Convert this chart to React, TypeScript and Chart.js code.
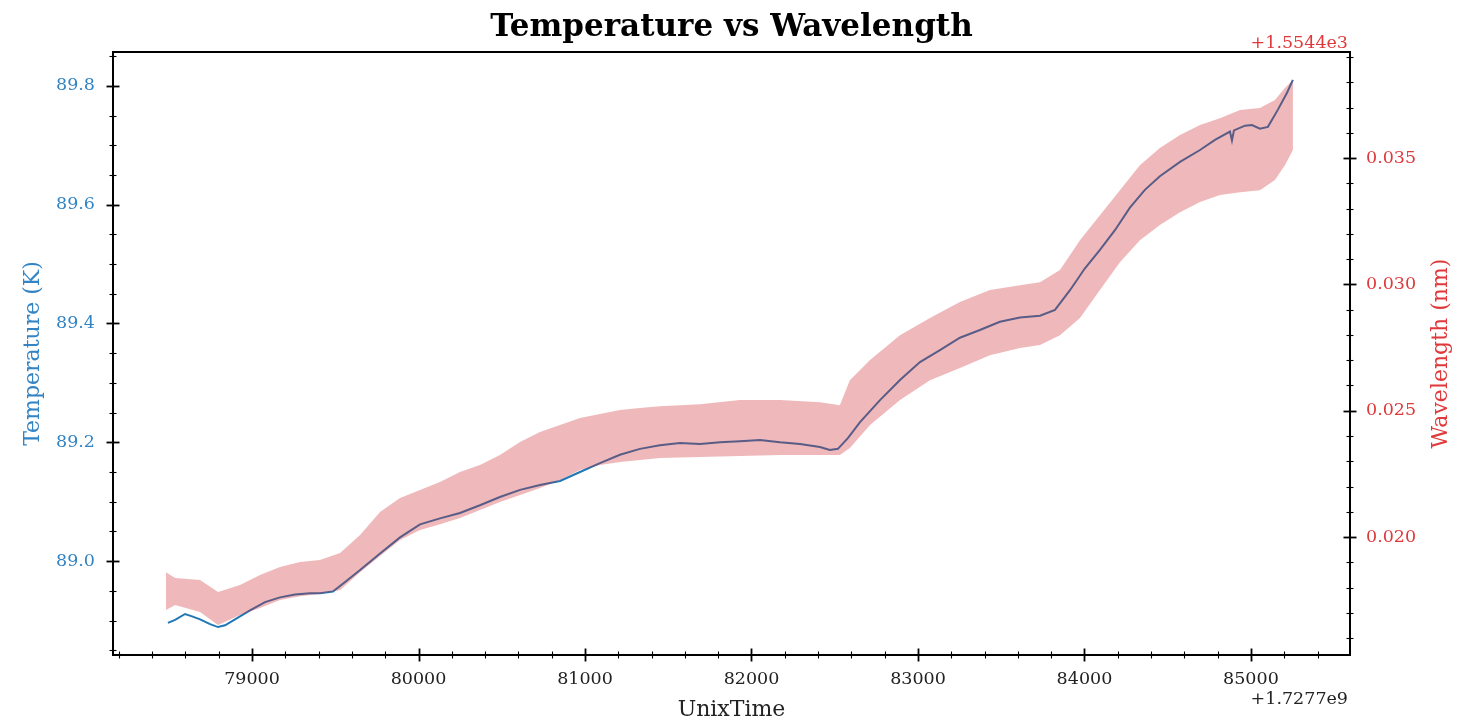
import React, { useEffect, useRef } from 'react';
import { Chart, registerables } from 'chart.js';

Chart.register(...registerables);

// ---- Data ----
const X_OFFSET_LABEL = '+1.7277e9';
const WL_OFFSET_LABEL = '+1.5544e3';

// Temperature (K) vs UnixTime (offset 1.7277e9)
const tempTime = [
  78495, 78538, 78598, 78640, 78688, 78748, 78796, 78838, 78898, 78988,
  79078, 79168, 79258, 79348, 79408, 79486, 79559, 79649, 79769, 79889,
  80009, 80129, 80249, 80369, 80489, 80610, 80730, 80850, 80970, 81090,
  81210, 81330, 81450, 81571, 81691, 81811, 81931, 82051, 82171, 82291,
  82411, 82471, 82519, 82579, 82652, 82772, 82892, 83012, 83132, 83252,
  83372, 83492, 83613, 83733, 83823, 83913, 84003, 84093, 84183, 84273,
  84363, 84453, 84574, 84694, 84784, 84874, 84886, 84898, 84964, 85006,
  85054, 85102, 85162, 85216, 85252,
];
const tempValue = [
  88.896, 88.901, 88.911, 88.907, 88.902, 88.894, 88.889, 88.892, 88.902, 88.917,
  88.931, 88.939, 88.944, 88.946, 88.946, 88.949, 88.965, 88.985, 89.013, 89.040,
  89.062, 89.072, 89.081, 89.094, 89.108, 89.120, 89.128, 89.135, 89.150, 89.165,
  89.179, 89.189, 89.195, 89.199, 89.197, 89.200, 89.202, 89.204, 89.200, 89.197,
  89.192, 89.187, 89.189, 89.207, 89.234, 89.271, 89.305, 89.335, 89.355, 89.376,
  89.389, 89.403, 89.410, 89.413, 89.423, 89.456, 89.493, 89.524, 89.557, 89.595,
  89.625, 89.648, 89.672, 89.692, 89.709, 89.723, 89.708, 89.725, 89.733, 89.734,
  89.728, 89.731, 89.760, 89.788, 89.810,
];

// Wavelength (nm, offset 1554.4): upper and lower envelope of the noisy trace
const wlTime = [
  78483, 78538, 78688, 78796, 78928, 79048, 79168, 79288, 79408, 79529,
  79649, 79769, 79889, 80009, 80129, 80249, 80369, 80489, 80610, 80730,
  80850, 80970, 81090, 81210, 81330, 81450, 81691, 81931, 82171, 82411,
  82531, 82591, 82712, 82892, 83072, 83252, 83432, 83613, 83733, 83853,
  83973, 84093, 84213, 84333, 84453, 84574, 84694, 84814, 84934, 85054,
  85144, 85204, 85252,
];
const wlUpper = [
  0.01861, 0.01838, 0.01830, 0.01782, 0.01810, 0.01850, 0.01881, 0.01901, 0.01909, 0.01937,
  0.02008, 0.02099, 0.02154, 0.02186, 0.02218, 0.02257, 0.02285, 0.02325, 0.02376, 0.02416,
  0.02443, 0.02471, 0.02487, 0.02503, 0.02511, 0.02518, 0.02526, 0.02542, 0.02542, 0.02534,
  0.02522, 0.02621, 0.02701, 0.02799, 0.02867, 0.02930, 0.02978, 0.02997, 0.03009, 0.03057,
  0.03175, 0.03274, 0.03373, 0.03472, 0.03540, 0.03591, 0.03631, 0.03658, 0.03690, 0.03698,
  0.03730, 0.03777, 0.03809,
];
const wlLower = [
  0.01711, 0.01731, 0.01703, 0.01652, 0.01691, 0.01719, 0.01751, 0.01766, 0.01774, 0.01790,
  0.01861, 0.01925, 0.01988, 0.02028, 0.02051, 0.02075, 0.02107, 0.02139, 0.02166, 0.02194,
  0.02226, 0.02265, 0.02285, 0.02297, 0.02305, 0.02313, 0.02317, 0.02321, 0.02325, 0.02325,
  0.02325, 0.02352, 0.02443, 0.02542, 0.02621, 0.02669, 0.02720, 0.02748, 0.02760, 0.02799,
  0.02867, 0.02978, 0.03088, 0.03175, 0.03235, 0.03286, 0.03326, 0.03354, 0.03365, 0.03373,
  0.03413, 0.03472, 0.03532,
];

// ---- Ticks ----
const xMajorTicks = [79000, 80000, 81000, 82000, 83000, 84000, 85000];
const xAllTicks = [
  78200, 78400, 78600, 78800, 79000, 79200, 79400, 79600, 79800, 80000,
  80200, 80400, 80600, 80800, 81000, 81200, 81400, 81600, 81800, 82000,
  82200, 82400, 82600, 82800, 83000, 83200, 83400, 83600, 83800, 84000,
  84200, 84400, 84600, 84800, 85000, 85200, 85400,
];
const yMajorTicks = [89.0, 89.2, 89.4, 89.6, 89.8];
const yAllTicks = [
  88.85, 88.9, 88.95, 89.0, 89.05, 89.1, 89.15, 89.2, 89.25, 89.3, 89.35,
  89.4, 89.45, 89.5, 89.55, 89.6, 89.65, 89.7, 89.75, 89.8, 89.85,
];
const y2MajorTicks = [0.02, 0.025, 0.03, 0.035];
const y2AllTicks = [
  0.016, 0.017, 0.018, 0.019, 0.02, 0.021, 0.022, 0.023, 0.024, 0.025, 0.026, 0.027,
  0.028, 0.029, 0.03, 0.031, 0.032, 0.033, 0.034, 0.035, 0.036, 0.037, 0.038, 0.039,
];

const isMajor = (list: number[], v: number) => list.some((m) => Math.abs(m - v) < 1e-9);

const FONT = "'DejaVu Serif', serif";
const BLUE = '#1f77b4';
const BLUE_TEXT = '#3384c4';
const RED_TEXT = '#e0393b';
const BAND = 'rgba(205,40,45,0.33)';
const TICK_SIZE = 17.5;

const decorPlugin = {
  id: 'decor',
  afterDraw(chart: any) {
    const { ctx, chartArea } = chart;
    const { left, right, top, bottom } = chartArea;
    ctx.save();
    // spines
    ctx.strokeStyle = '#000';
    ctx.lineWidth = 2;
    ctx.strokeRect(left, top, right - left, bottom - top);

    // ticks (major and minor, crossing the spines)
    const drawTicks = (scale: any, all: number[], majors: number[], side: string) => {
      for (const v of all) {
        const major = isMajor(majors, v);
        const len = major ? 6.5 : 3.5;
        ctx.lineWidth = major ? 1.8 : 1.1;
        ctx.beginPath();
        if (side === 'bottom') {
          const px = Math.round(scale.getPixelForValue(v)) + 0.5;
          ctx.moveTo(px, bottom - len);
          ctx.lineTo(px, bottom + len);
        } else {
          const py = Math.round(scale.getPixelForValue(v)) + 0.5;
          const x0 = side === 'left' ? left : right;
          ctx.moveTo(x0 - len, py);
          ctx.lineTo(x0 + len, py);
        }
        ctx.stroke();
      }
    };
    drawTicks(chart.scales.x, xAllTicks, xMajorTicks, 'bottom');
    drawTicks(chart.scales.y, yAllTicks, yMajorTicks, 'left');
    drawTicks(chart.scales.y2, y2AllTicks, y2MajorTicks, 'right');

    // title
    ctx.fillStyle = '#000';
    ctx.font = `bold 31px ${FONT}`;
    ctx.textAlign = 'center';
    ctx.textBaseline = 'alphabetic';
    ctx.fillText('Temperature vs Wavelength', (left + right) / 2, 36);

    // x label
    ctx.font = `22px ${FONT}`;
    ctx.fillStyle = '#222';
    ctx.fillText('UnixTime', (left + right) / 2, 716);

    // offsets
    ctx.font = `${TICK_SIZE}px ${FONT}`;
    ctx.textAlign = 'right';
    ctx.fillStyle = '#222';
    ctx.fillText(X_OFFSET_LABEL, right - 2, 704);
    ctx.fillStyle = RED_TEXT;
    ctx.fillText(WL_OFFSET_LABEL, right - 2, 48);

    // y labels
    ctx.font = `22px ${FONT}`;
    ctx.textAlign = 'center';
    ctx.textBaseline = 'alphabetic';
    ctx.save();
    ctx.translate(38.5, (top + bottom) / 2);
    ctx.rotate(-Math.PI / 2);
    ctx.fillStyle = BLUE_TEXT;
    ctx.fillText('Temperature (K)', 0, 0);
    ctx.restore();
    ctx.save();
    ctx.translate(1447, (top + bottom) / 2);
    ctx.rotate(-Math.PI / 2);
    ctx.fillStyle = RED_TEXT;
    ctx.fillText('Wavelength (nm)', 0, 0);
    ctx.restore();

    ctx.restore();
  },
};

export default function App() {
  const ref = useRef<HTMLCanvasElement | null>(null);

  useEffect(() => {
    if (!ref.current) return;
    const chart = new Chart(ref.current, {
      type: 'line',
      data: {
        datasets: [
          {
            label: 'Temperature',
            data: tempTime.map((t, i) => ({ x: t, y: tempValue[i] })),
            yAxisID: 'y',
            borderColor: BLUE,
            borderWidth: 2,
            pointRadius: 0,
            fill: false,
            tension: 0,
            order: 2,
          },
          {
            label: 'Wavelength upper',
            data: wlTime.map((t, i) => ({ x: t, y: wlUpper[i] })),
            yAxisID: 'y2',
            borderColor: 'rgba(0,0,0,0)',
            borderWidth: 1,
            backgroundColor: BAND,
            pointRadius: 0,
            fill: '+1',
            tension: 0,
            order: 0,
          },
          {
            label: 'Wavelength lower',
            data: wlTime.map((t, i) => ({ x: t, y: wlLower[i] })),
            yAxisID: 'y2',
            borderColor: 'rgba(0,0,0,0)',
            borderWidth: 1,
            pointRadius: 0,
            fill: false,
            tension: 0,
            order: 1,
          },
        ],
      },
      options: {
        responsive: false,
        animation: false,
        layout: { padding: { top: 52, left: 0, right: 0, bottom: 0 } },
        plugins: { legend: { display: false }, tooltip: { enabled: false }, title: { display: false } },
        scales: {
          x: {
            type: 'linear',
            position: 'bottom',
            min: 78165,
            max: 85595,
            afterBuildTicks: (s: any) => {
              s.ticks = xAllTicks.map((v) => ({ value: v }));
            },
            afterFit: (s: any) => {
              s.height = 66;
            },
            grid: { display: false },
            border: { display: false },
            ticks: {
              autoSkip: false,
              maxRotation: 0,
              padding: 6,
              color: '#222',
              font: { family: FONT, size: TICK_SIZE },
              callback: (v: any) => (isMajor(xMajorTicks, Number(v)) ? String(Math.round(Number(v))) : ''),
            },
          },
          y: {
            type: 'linear',
            position: 'left',
            min: 88.842,
            max: 89.857,
            afterBuildTicks: (s: any) => {
              s.ticks = yAllTicks.map((v) => ({ value: v }));
            },
            afterFit: (s: any) => {
              s.width = 113;
            },
            grid: { display: false },
            border: { display: false },
            ticks: {
              autoSkip: false,
              padding: 10,
              color: BLUE_TEXT,
              font: { family: FONT, size: TICK_SIZE },
              callback: (v: any) => (isMajor(yMajorTicks, Number(v)) ? Number(v).toFixed(1) : ''),
            },
          },
          y2: {
            type: 'linear',
            position: 'right',
            min: 0.01533,
            max: 0.0392,
            afterBuildTicks: (s: any) => {
              s.ticks = y2AllTicks.map((v) => ({ value: v }));
            },
            afterFit: (s: any) => {
              s.width = 121;
            },
            grid: { display: false },
            border: { display: false },
            ticks: {
              autoSkip: false,
              padding: 8,
              color: RED_TEXT,
              font: { family: FONT, size: TICK_SIZE },
              callback: (v: any) => (isMajor(y2MajorTicks, Number(v)) ? Number(v).toFixed(3) : ''),
            },
          },
        },
      },
      plugins: [decorPlugin],
    } as any);
    return () => chart.destroy();
  }, []);

  return (
    <div style={{ position: 'fixed', left: 0, top: 0, width: 1471, height: 721, background: '#fff' }}>
      <canvas ref={ref} width={1471} height={721} style={{ width: 1471, height: 721, display: 'block' }} />
    </div>
  );
}
